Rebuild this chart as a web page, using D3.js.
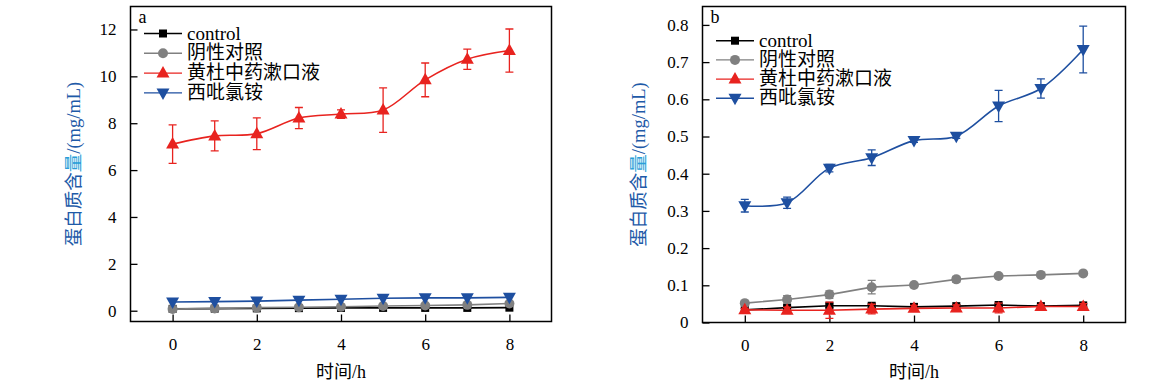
<!DOCTYPE html>
<html><head><meta charset="utf-8">
<script src="https://cdn.jsdelivr.net/npm/d3@7"></script>
<style>
body{margin:0;background:#fff;}
text{font-family:"Liberation Serif","Times New Roman","Noto Sans CJK SC",serif;}
</style></head>
<body><svg id="c" width="1155" height="388"></svg>
<script>
const hours = [0,1,2,3,4,5,6,7,8];
const seriesNames = ["control","阴性对照","黄杜中药漱口液","西吡氯铵"];
const xTicks = [0,2,4,6,8];
// Panel a
const aControl = [0.08,0.09,0.10,0.11,0.12,0.12,0.12,0.12,0.13];
const aNeg = [0.07,0.10,0.13,0.15,0.17,0.20,0.22,0.25,0.31];
const aHD = [7.11,7.46,7.55,8.22,8.39,8.56,9.85,10.73,11.10];
const aHDErr = [0.82,0.64,0.68,0.45,0.18,0.95,0.72,0.43,0.92];
const aCPC = [0.37,0.39,0.41,0.45,0.49,0.53,0.55,0.55,0.57];
const aYTicks = [0,2,4,6,8,10,12];
// Panel b
const bControl = [0.034,0.040,0.045,0.045,0.042,0.044,0.047,0.044,0.046];
const bControlErr = [0.004,0.004,0.005,0.005,0.004,0.004,0.004,0.003,0.004];
const bNeg = [0.052,0.062,0.075,0.095,0.101,0.116,0.125,0.128,0.132];
const bNegErr = [0.004,0.010,0.010,0.018,0.003,0.008,0.004,0.003,0.003];
const bHD = [0.034,0.033,0.033,0.036,0.038,0.039,0.039,0.043,0.043];
const bHDErr = [0.004,0.008,0.022,0.013,0.008,0.008,0.013,0.005,0.008];
const bCPC = [0.314,0.322,0.415,0.443,0.489,0.501,0.582,0.629,0.734];
const bCPCErr = [0.017,0.015,0.010,0.021,0.005,0.006,0.042,0.026,0.063];
const bYTicks = [0,0.1,0.2,0.3,0.4,0.5,0.6,0.7,0.8];

const colors = ["#000000","#808080","#e8231f","#1e4fa0"];
const shapes = ["square","circle","up","down"];

const svg = d3.select("#c");

function marker(g, shape, x, y, color){
  if(shape==="square"){
    g.append("rect").attr("x",x-4).attr("y",y-4).attr("width",8).attr("height",8).attr("fill",color);
  } else if(shape==="circle"){
    g.append("circle").attr("cx",x).attr("cy",y).attr("r",5).attr("fill",color);
  } else if(shape==="up"){
    g.append("path").attr("d",`M${x},${y-7}L${x+6.5},${y+4.5}L${x-6.5},${y+4.5}Z`).attr("fill",color);
  } else {
    g.append("path").attr("d",`M${x},${y+7}L${x+6.5},${y-4.5}L${x-6.5},${y-4.5}Z`).attr("fill",color);
  }
}

function panel(opt){
  const g = svg.append("g");
  const x = d3.scaleLinear().domain([-1,9]).range([opt.x0,opt.x1]);
  const y = d3.scaleLinear().domain(opt.yDomain).range([opt.y1,opt.y0]);
  g.append("rect").attr("x",opt.x0).attr("y",opt.y0).attr("width",opt.x1-opt.x0).attr("height",opt.y1-opt.y0)
    .attr("fill","none").attr("stroke","#000").attr("stroke-width",1.5);
  const ya = d3.axisLeft(y).tickValues(opt.yTicks).tickSize(-7).tickPadding(14).tickFormat(opt.fmt);
  const yg = g.append("g").attr("transform",`translate(${opt.x0},0)`).call(ya);
  yg.select(".domain").remove();
  yg.selectAll("line").attr("stroke-width",1.3);
  yg.selectAll("text").attr("font-size",17).attr("fill","#000");
  const xa = d3.axisBottom(x).tickValues(xTicks).tickSize(-7).tickPadding(16);
  const xg = g.append("g").attr("transform",`translate(0,${opt.y1})`).call(xa);
  xg.select(".domain").remove();
  xg.selectAll("line").attr("stroke-width",1.3);
  xg.selectAll("text").attr("font-size",17).attr("fill","#000");
  const cx = (opt.x0+opt.x1)/2, cy=(opt.y0+opt.y1)/2;
  g.append("text").attr("x",cx).attr("y",378).attr("text-anchor","middle").attr("font-size",18).text("时间/h");
  const yl = g.append("text").attr("transform",`translate(${opt.ylx},${cy}) rotate(-90)`).attr("text-anchor","middle")
    .attr("font-size",18.5).attr("fill","#1e5aa8");
  yl.append("tspan").text("蛋白质含");
  yl.append("tspan").attr("fill","#2a9fd8").text("量");
  yl.append("tspan").text("/(mg/mL)");
  opt.series.forEach((s,i)=>{
    const sg = g.append("g");
    const pts = hours.map((h,j)=>[x(h),y(s.v[j])]);
    const line = d3.line().curve(s.smooth? d3.curveCatmullRom.alpha(0.5) : d3.curveLinear);
    sg.append("path").attr("d",line(pts)).attr("fill","none").attr("stroke",colors[i]).attr("stroke-width",1.6);
    if(s.e){
      hours.forEach((h,j)=>{
        const xx=x(h), t=y(s.v[j]+s.e[j]), b=y(s.v[j]-s.e[j]);
        sg.append("path").attr("d",`M${xx},${t}V${b}M${xx-4},${t}H${xx+4}M${xx-4},${b}H${xx+4}`)
          .attr("stroke",colors[i]).attr("stroke-width",1.3).attr("fill","none");
      });
    }
    pts.forEach(p=>marker(sg,shapes[i],p[0],p[1],colors[i]));
  });
  g.append("text").attr("x",opt.x0+8).attr("y",opt.y0+16).attr("font-size",18).text(opt.letter);
  seriesNames.forEach((n,i)=>{
    const ly = opt.legY + i*opt.legStep;
    g.append("line").attr("x1",opt.legX).attr("x2",opt.legX+38).attr("y1",ly).attr("y2",ly)
      .attr("stroke",colors[i]).attr("stroke-width",1.4);
    marker(g,shapes[i],opt.legX+19,ly,colors[i]);
    g.append("text").attr("x",opt.legX+43).attr("y",ly+6).attr("font-size",19).text(n);
  });
}

panel({x0:130.5,x1:551.5,y0:6.5,y1:321.5,yDomain:[-0.46,12.98],yTicks:aYTicks,fmt:d3.format("d"),
  ylx:80,letter:"a",legX:144,legY:33.5,legStep:19.8,
  series:[{v:aControl},{v:aNeg},{v:aHD,e:aHDErr,smooth:true},{v:aCPC}]});

panel({x0:702.5,x1:1125.5,y0:6.5,y1:322.5,yDomain:[0,0.8495],yTicks:bYTicks,fmt:d=>d===0?"0":d3.format(".1f")(d),
  ylx:645,letter:"b",legX:716,legY:40.7,legStep:19.2,
  series:[{v:bControl,e:bControlErr},{v:bNeg,e:bNegErr},{v:bHD,e:bHDErr},{v:bCPC,e:bCPCErr,smooth:true}]});
</script></body></html>
